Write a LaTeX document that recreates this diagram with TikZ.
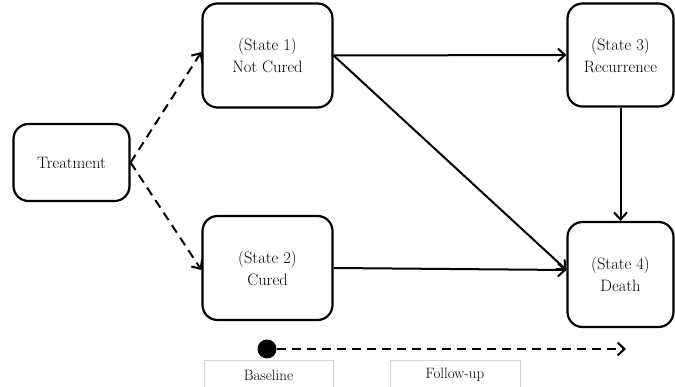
\documentclass[tikz,border=0pt]{standalone}
\usetikzlibrary{arrows.meta}
\begin{document}
\begin{tikzpicture}[x=1pt,y=-1pt,
  statebox/.style={draw, line width=2.2pt, rounded corners=15pt, align=center, font=\fontsize{16.5}{22}\selectfont, inner sep=0pt},
  arr/.style={line width=2pt, -{Straight Barb[length=7pt,width=13pt]}},
  darr/.style={arr, dash pattern=on 9pt off 6pt},
  lbl/.style={font=\fontsize{15}{17}\selectfont}]
\useasboundingbox (0,0) rectangle (675,387);
\node[statebox, minimum width=116pt, minimum height=77pt] (T) at (71.5,162.5) {Treatment};
\node[statebox, minimum width=130pt, minimum height=104pt] (S1) at (267.5,55.5) {(State 1)\\Not Cured};
\node[statebox, minimum width=130pt, minimum height=104pt] (S2) at (267.5,268) {(State 2)\\Cured};
\node[statebox, minimum width=106pt, minimum height=103pt] (S3) at (620.5,55) {(State 3)\\Recurrence};
\node[statebox, minimum width=106pt, minimum height=105pt] (S4) at (620.5,274.5) {(State 4)\\Death};
\draw[darr] (T.east) -- (S1.west |- 0,52);
\draw[darr] (T.east) -- (S2.west |- 0,270);
\draw[arr] (S1.east) -- (S3.west);
\draw[arr] (S1.east) -- (S4.west |- 0,270);
\draw[arr] (S2.east) -- (S4.west |- 0,270);
\draw[arr] (S3.south) -- (S4.north);
\node[circle, fill=black, minimum size=19pt, inner sep=0pt] (dot) at (267,349) {};
\coordinate (tend) at (626,349);
\draw[darr] (dot.east) -- (tend);
\draw[gray!35, line width=0.7pt] (204,387) |- (333,360) -- (333,387);
\draw[gray!35, line width=0.7pt] (390,387) |- (520,360) -- (520,387);
\node[lbl] (bl) at (268.5,375) {Baseline};
\node[lbl] (fu) at (455,375) {Follow-up};
\end{tikzpicture}
\end{document}
